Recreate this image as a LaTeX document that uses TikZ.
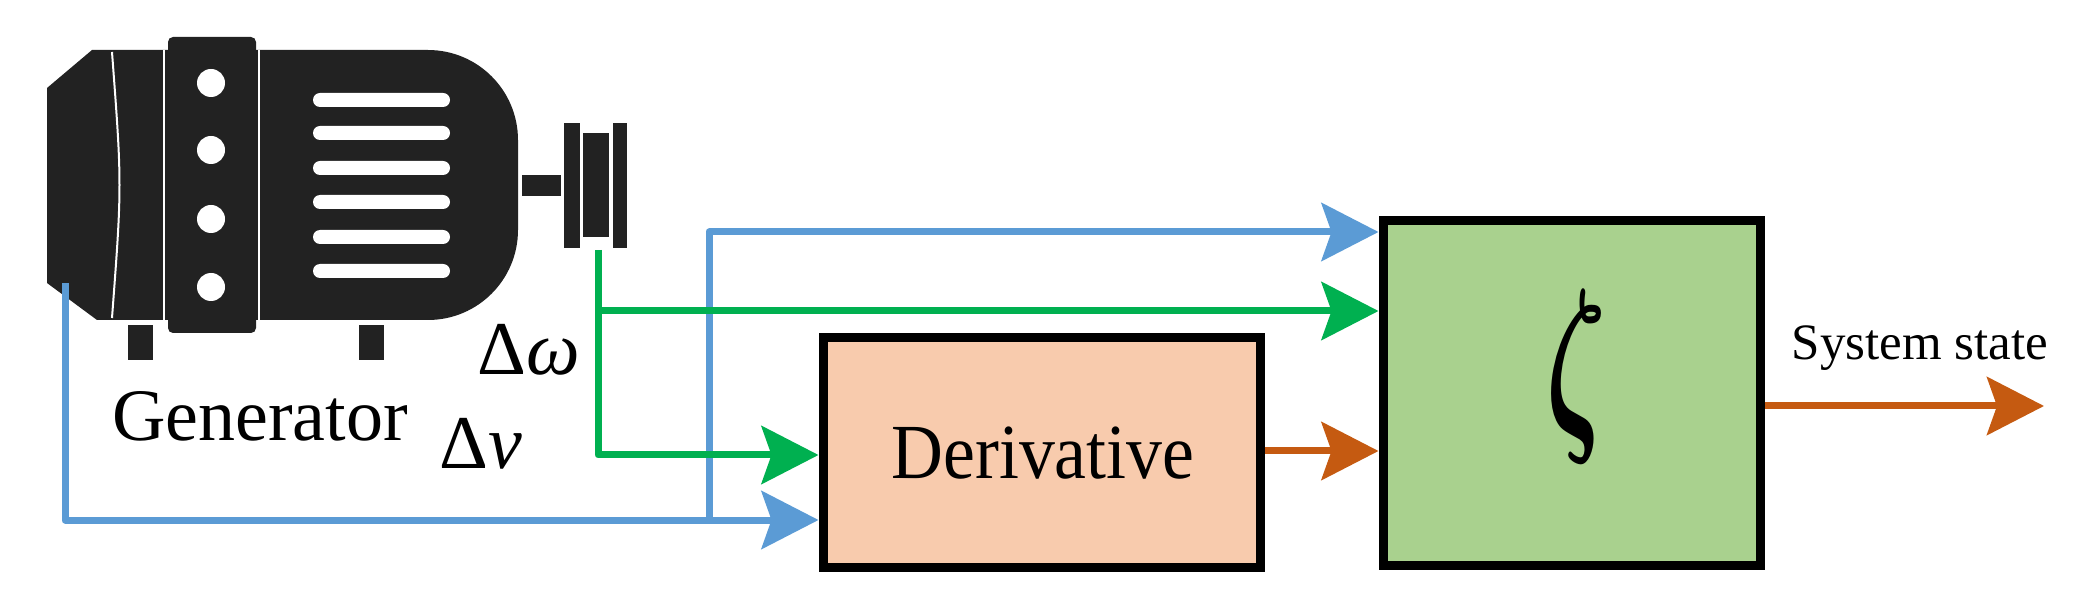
\documentclass[tikz,border=0pt]{standalone}
\usepackage{fontspec}
\setmainfont{Liberation Serif}
\usetikzlibrary{arrows.meta,calc}
\definecolor{cblue}{HTML}{5B9BD5}
\definecolor{cgreen}{HTML}{00B050}
\definecolor{corange}{HTML}{C55A11}
\definecolor{cder}{HTML}{F8CBAD}
\definecolor{czeta}{HTML}{A9D18E}
\definecolor{cgen}{HTML}{222222}
\begin{document}
\begin{tikzpicture}[x=1pt,y=-1pt,
  conn/.style={line width=7pt,-{Stealth[length=57pt,width=58pt,inset=10pt]}},
  box/.style={draw=black,line width=9pt,inner sep=0pt},
  lbl/.style={inner sep=0pt,anchor=center}]
\useasboundingbox (0,0) rectangle (2073,601);
% generator
\fill[cgen] (47,88)--(92,50)--(300,50) {[rounded corners=90pt] --(518,50)--(518,320)} --(300,320)--(97,320)--(47,283)--cycle;
\draw[white,line width=2pt] (112,52) .. controls (122,185) .. (112,318);
\draw[white,line width=2pt] (164,50)--(164,320);
\draw[white,line width=2pt] (259,50)--(259,320);
\fill[cgen,rounded corners=5pt] (168,37) rectangle (256,333);
\foreach \y in {83,150,219,287} \fill[white] (211,\y) circle (14pt);
\foreach \y in {100,133,168,202,237,271} \fill[white,rounded corners=7pt] (313,\y-7) rectangle (450,\y+7);
\fill[cgen] (522,175) rectangle (561,196);
\fill[cgen] (564,123) rectangle (580,248);
\fill[cgen] (613,123) rectangle (627,248);
\fill[cgen] (583,133) rectangle (609,237);
\fill[cgen] (128,325) rectangle (153,360);
\fill[cgen] (359,325) rectangle (384,360);
\node[lbl] (gen) at (260,416) {\fontsize{74}{74}\selectfont Generator};
\node[lbl] (dw) at (529,350) {\fontsize{76}{76}\selectfont Δ\textit{ω}};
\node[lbl] (dv) at (481,444) {\fontsize{76}{76}\selectfont Δ\textit{ν}};
% blocks
\node[box,fill=cder,minimum width=437pt,minimum height=229pt] (der) at (1041.5,452.5) {};
\node[lbl] at (1043,453) {\scalebox{0.92}[1]{\fontsize{78}{78}\selectfont Derivative}};
\node[box,fill=czeta,minimum width=377pt,minimum height=344pt] (zeta) at (1571.5,393) {};
\node[lbl] at (1576,377) {\resizebox{60pt}{135pt}{\boldmath$\zeta$}};
\node[lbl] (ss) at (1920,348) {\fontsize{51}{51}\selectfont System state};
% coordinates
\coordinate (vs) at (65,283);
\coordinate (vc) at (65,520);
\coordinate (vb) at (709,520);
\coordinate (vt) at (709,232);
\coordinate (ws) at (598,250);
\coordinate (wb) at (598,455);
\coordinate (wt) at (598,311);
\coordinate (out) at (2044,406);
% connectors
\draw[conn,cblue,line join=round] (vs)--(vc)--(der.west |- vc);
\draw[conn,cblue,line join=round] (vb)--(vt)--(zeta.west |- vt);
\draw[conn,cgreen,line join=round] (ws)--(wb)--(der.west |- wb);
\draw[conn,cgreen] (wt)--(zeta.west |- wt);
\draw[conn,corange] (der.east |- 0,451)--(zeta.west |- 0,451);
\draw[conn,corange] (zeta.east |- out)--(out);
\end{tikzpicture}
\end{document}
